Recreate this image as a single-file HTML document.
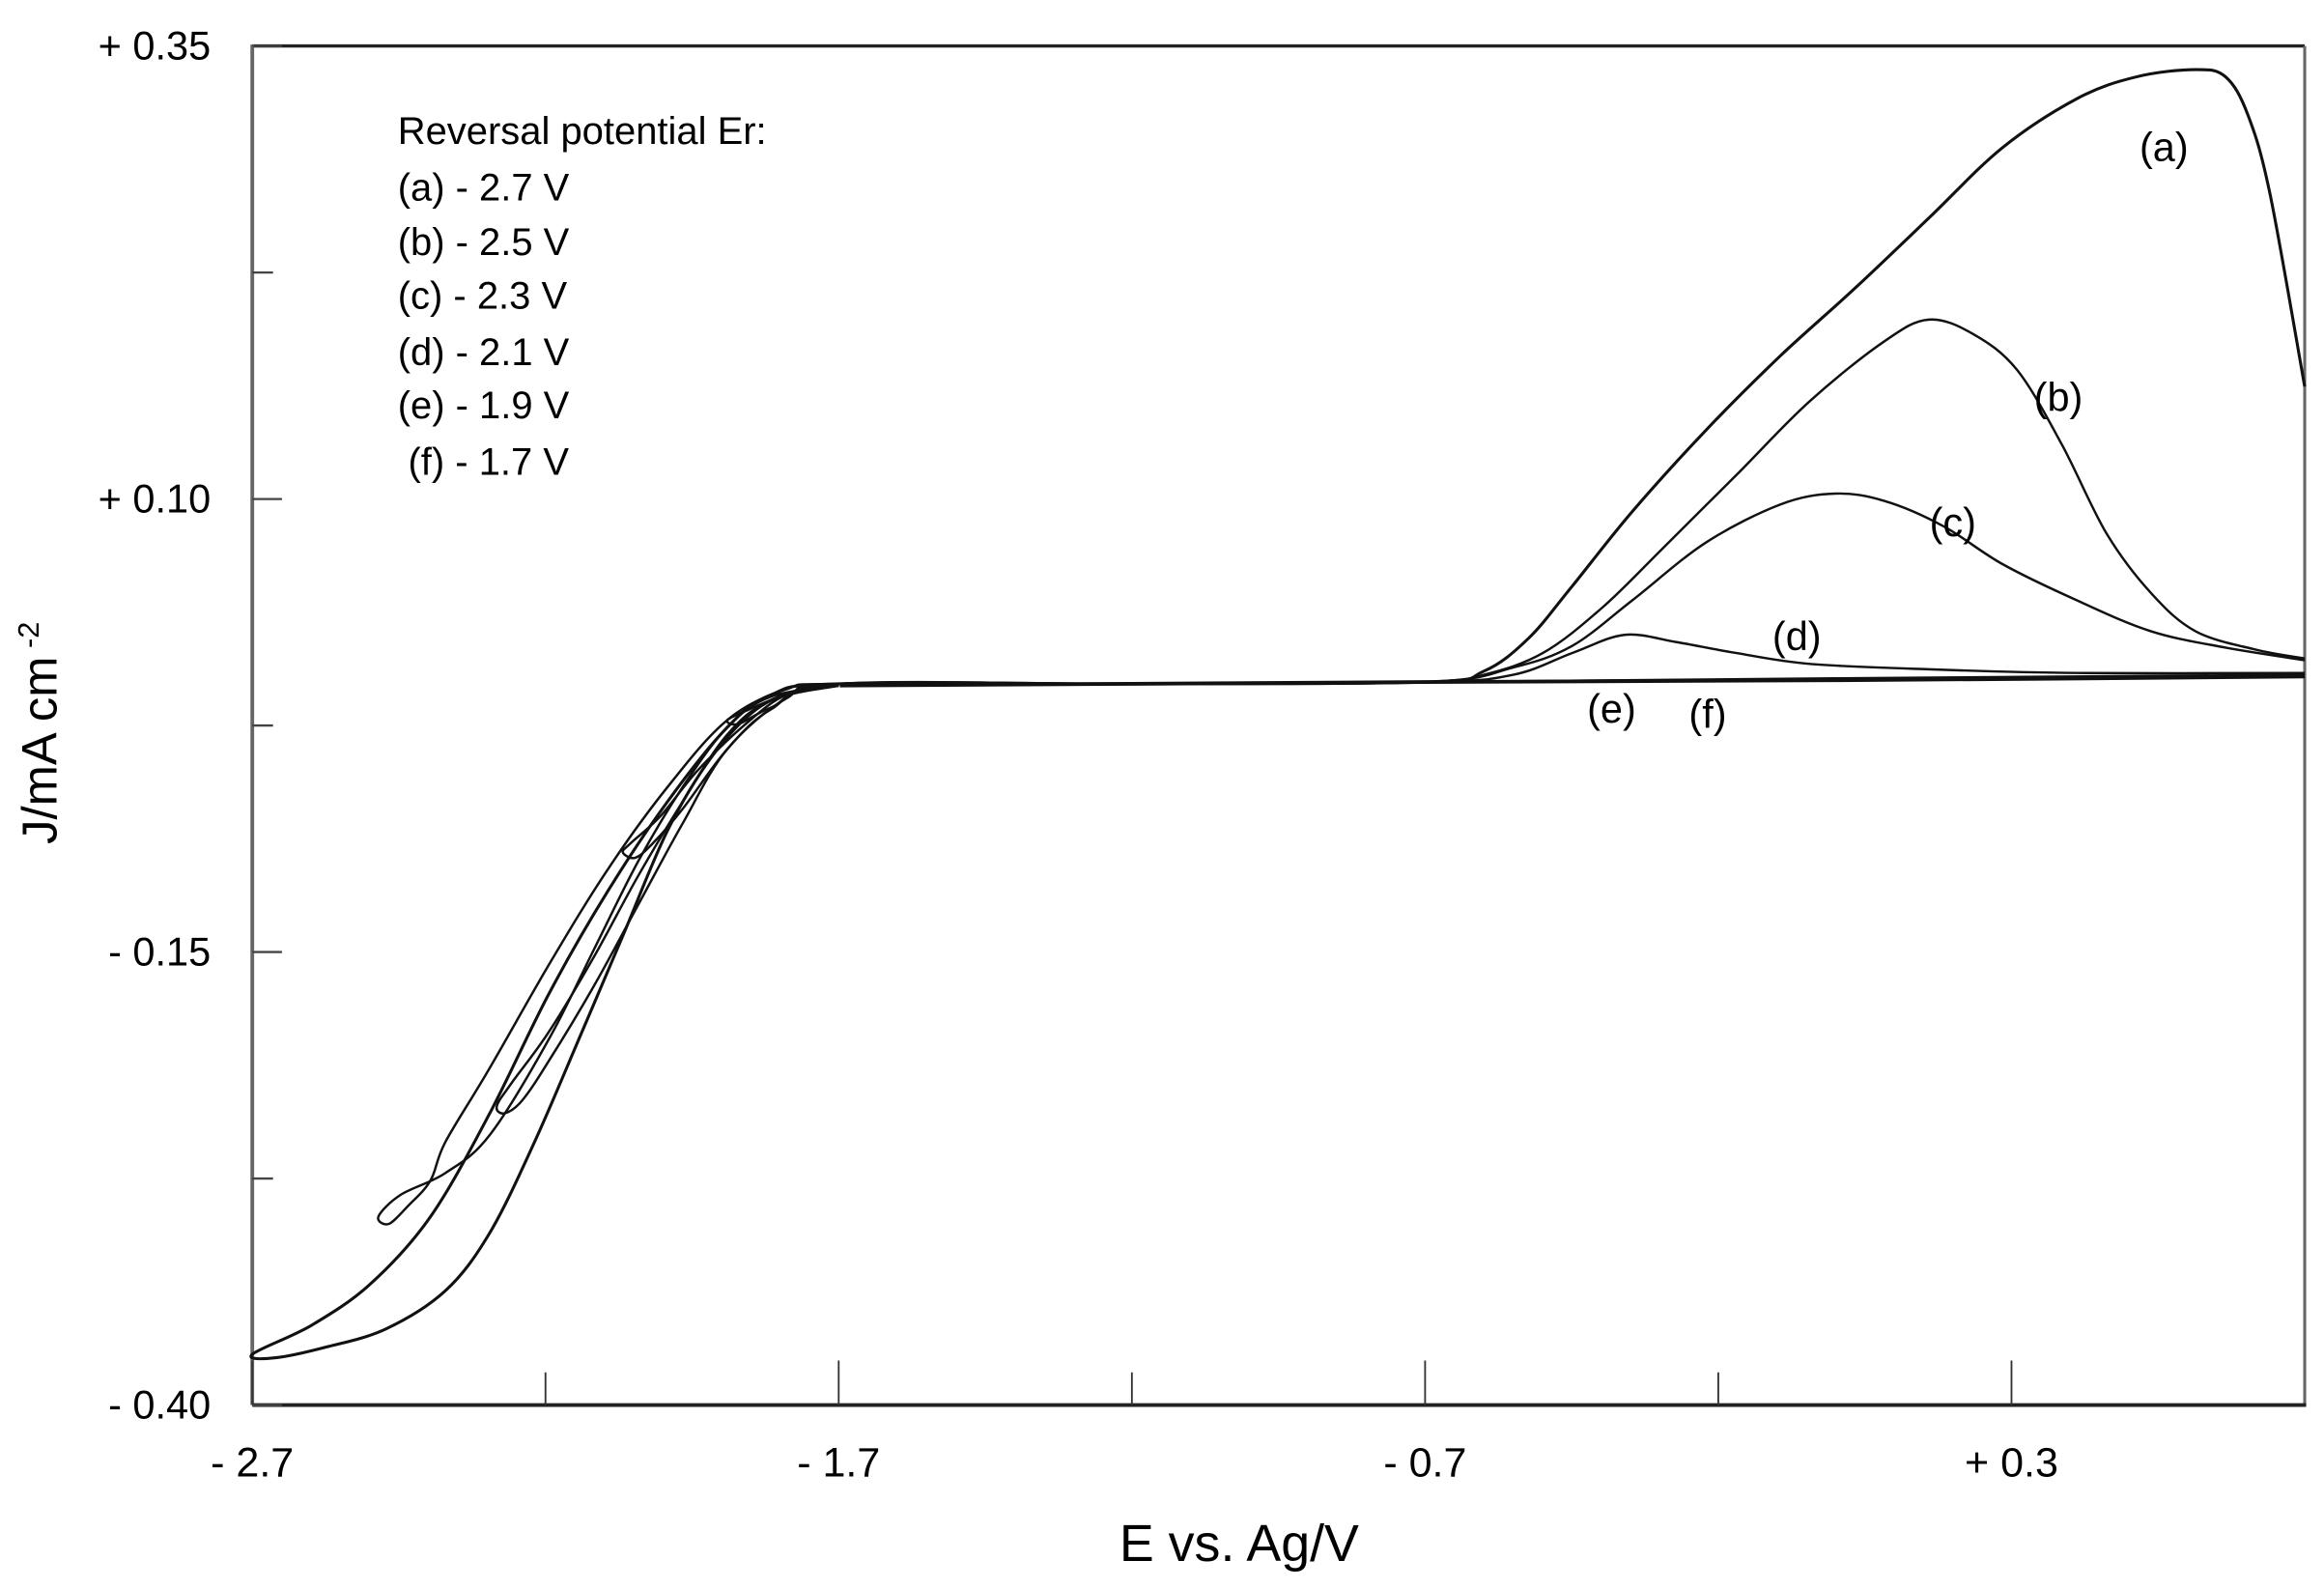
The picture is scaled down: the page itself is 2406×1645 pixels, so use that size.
<!DOCTYPE html>
<html><head><meta charset="utf-8"><style>
html,body{margin:0;padding:0;background:#fff;}
svg{display:block;font-family:"Liberation Sans",Arial,sans-serif;}
</style></head><body>
<svg id="chart" width="2406" height="1645" viewBox="0 0 1566 1071" preserveAspectRatio="none" xmlns="http://www.w3.org/2000/svg">
<g id="axes"></g>
<g id="series"></g>
<g id="legend">
<text x="268" y="97" font-size="26">Reversal potential Er:</text>
<text x="268" y="135" font-size="26">(a) - 2.7 V</text>
<text x="268" y="172" font-size="26">(b) - 2.5 V</text>
<text x="268" y="208" font-size="26">(c) - 2.3 V</text>
<text x="268" y="246" font-size="26">(d) - 2.1 V</text>
<text x="268" y="282" font-size="26">(e) - 1.9 V</text>
<text x="275" y="320" font-size="26">(f) - 1.7 V</text>
</g>
<text x="835" y="1052" font-size="35" text-anchor="middle">E vs. Ag/V</text>
<text transform="translate(38,494) rotate(-90)" font-size="33" text-anchor="middle">J/mA cm<tspan font-size="20" dy="-12"> -2</tspan></text>
</svg>
<script>
const xTickValues=[-2.7,-1.7,-0.7,0.3];
const xTickLabels=["- 2.7","- 1.7","- 0.7","+ 0.3"];
const xMinorValues=[-2.2,-1.2,-0.2];
const yTickValues=[0.35,0.10,-0.15,-0.40];
const yTickLabels=["+ 0.35","+ 0.10","- 0.15","- 0.40"];
const yMinorValues=[0.225,-0.025,-0.275];
// curve (a)
const aE=[-1.70,-1.764,-1.84,-1.916,-1.992,-2.068,-2.143,-2.219,-2.295,-2.371,-2.472,-2.574,-2.662,-2.70,-2.599,-2.498,-2.396,-2.295,-2.194,-2.093,-1.992,-1.89,-1.815,-1.70,-1.2,-0.699,-0.60,-0.524,-0.449,-0.347,-0.221,-0.094,0.032,0.159,0.285,0.412,0.513,0.614,0.665,0.703,0.741,0.80];
const aJ=[-0.003,-0.005,-0.016,-0.042,-0.083,-0.141,-0.198,-0.255,-0.305,-0.337,-0.358,-0.368,-0.374,-0.372,-0.356,-0.333,-0.296,-0.239,-0.173,-0.116,-0.067,-0.026,-0.008,-0.002,-0.002,-0.001,0.005,0.023,0.052,0.093,0.138,0.179,0.216,0.255,0.294,0.321,0.333,0.337,0.333,0.312,0.268,0.162];
// curve (b)
const bE=[-1.70,-1.815,-1.89,-1.966,-2.042,-2.118,-2.194,-2.295,-2.371,-2.447,-2.485,-2.467,-2.434,-2.396,-2.371,-2.295,-2.194,-2.093,-1.992,-1.89,-1.789,-1.698,-1.2,-0.699,-0.60,-0.499,-0.398,-0.297,-0.170,-0.044,0.083,0.159,0.235,0.310,0.386,0.462,0.538,0.614,0.715,0.80];
const bJ=[-0.003,-0.009,-0.026,-0.059,-0.100,-0.149,-0.198,-0.251,-0.272,-0.284,-0.296,-0.300,-0.290,-0.276,-0.255,-0.214,-0.157,-0.104,-0.059,-0.022,-0.005,-0.002,-0.002,-0.001,0.003,0.015,0.040,0.072,0.113,0.154,0.187,0.199,0.191,0.171,0.130,0.081,0.048,0.027,0.017,0.012];
// curve (c)
const cE=[-1.70,-1.815,-1.89,-1.966,-2.042,-2.118,-2.194,-2.257,-2.283,-2.270,-2.240,-2.194,-2.118,-2.042,-1.966,-1.89,-1.789,-1.698,-1.2,-0.699,-0.55,-0.449,-0.347,-0.221,-0.094,-0.001,0.083,0.184,0.285,0.412,0.538,0.665,0.80];
const cJ=[-0.003,-0.011,-0.030,-0.067,-0.108,-0.153,-0.194,-0.222,-0.235,-0.239,-0.232,-0.210,-0.169,-0.124,-0.079,-0.038,-0.010,-0.002,-0.002,-0.001,0.007,0.019,0.044,0.076,0.097,0.103,0.099,0.085,0.064,0.044,0.027,0.018,0.011];
// curve (d)
const dE=[-1.70,-1.789,-1.865,-1.941,-2.004,-2.055,-2.068,-2.047,-2.017,-1.966,-1.89,-1.815,-1.698,-1.2,-0.699,-0.55,-0.449,-0.36,-0.271,-0.170,-0.044,0.159,0.412,0.80];
const dJ=[-0.003,-0.008,-0.026,-0.050,-0.075,-0.090,-0.095,-0.098,-0.090,-0.071,-0.038,-0.016,-0.002,-0.002,-0.001,0.003,0.015,0.025,0.021,0.015,0.009,0.006,0.004,0.004];
// curve (e)
const eE=[-1.70,-1.789,-1.852,-1.89,-1.87,-1.815,-1.698,-1.2,-0.699,0.0,0.80];
const eJ=[-0.003,-0.008,-0.016,-0.022,-0.024,-0.015,-0.002,-0.002,-0.001,0.001,0.003];
// curve (f) / return baseline
const fE=[0.80,0.0,-0.699,-1.2,-1.698];
const fJ=[0.002,0.0,-0.001,-0.002,-0.003];
const curveLabels=["(a)","(b)","(c)","(d)","(e)","(f)"];
const labelE=[0.56,0.38,0.20,-0.066,-0.382,-0.218];
const labelJ=[0.294,0.156,0.087,0.024,-0.016,-0.019];

const L=170,R=1553,T=31,B=947;
const xs=v=>L+(v+2.7)/3.5*(R-L);
const ys=v=>T+(0.35-v)/0.75*(B-T);
const NS="http://www.w3.org/2000/svg";
function mk(tag,attrs,parent){const el=document.createElementNS(NS,tag);for(const k in attrs)el.setAttribute(k,attrs[k]);parent.appendChild(el);return el;}
const axes=document.getElementById('axes');
let el;
el=mk('line',{x1:L,y1:T,x2:R,y2:T,stroke:'#222','stroke-width':2.2},axes);


el=mk('line',{x1:R,y1:T,x2:R,y2:B,stroke:'#666','stroke-width':2},axes);


el=mk('line',{x1:L,y1:T-1,x2:L,y2:B,stroke:'#666','stroke-width':2.5},axes);


el=mk('line',{x1:L,y1:B,x2:R+1,y2:B,stroke:'#222','stroke-width':2.5},axes);


xTickValues.forEach((v,i)=>{
 const t=mk('line',{x1:xs(v),y1:B,x2:xs(v),y2:B-30,stroke:'#333','stroke-width':1.2},axes);
 
 
 const tx=mk('text',{x:xs(v),y:995,'font-size':28,'text-anchor':'middle'},axes);
 tx.textContent=xTickLabels[i];
 
 
});
xMinorValues.forEach(v=>{
 const t=mk('line',{x1:xs(v),y1:B,x2:xs(v),y2:B-22,stroke:'#333','stroke-width':1.2},axes);
 
 
});
yTickValues.forEach((v,i)=>{
 const t=mk('line',{x1:L,y1:ys(v),x2:L+20,y2:ys(v),stroke:'#444','stroke-width':1.5},axes);
 
 
 const tx=mk('text',{x:142,y:ys(v)+9,'font-size':27,'text-anchor':'end'},axes);
 tx.textContent=yTickLabels[i];
 
 
});
yMinorValues.forEach(v=>{
 const t=mk('line',{x1:L,y1:ys(v),x2:L+14,y2:ys(v),stroke:'#444','stroke-width':1.5},axes);
 
 
});
function pathD(E,J){
 const p=E.map((e,i)=>[xs(e),ys(J[i])]);
 let d='M'+p[0][0].toFixed(1)+','+p[0][1].toFixed(1);
 for(let i=0;i<p.length-1;i++){
  const p0=p[Math.max(0,i-1)],p1=p[i],p2=p[i+1],p3=p[Math.min(p.length-1,i+2)];
  const c1=[p1[0]+(p2[0]-p0[0])/6,p1[1]+(p2[1]-p0[1])/6];
  const c2=[p2[0]-(p3[0]-p1[0])/6,p2[1]-(p3[1]-p1[1])/6];
  d+='C'+c1[0].toFixed(1)+','+c1[1].toFixed(1)+' '+c2[0].toFixed(1)+','+c2[1].toFixed(1)+' '+p2[0].toFixed(1)+','+p2[1].toFixed(1);
 }
 return d;
}
const series=document.getElementById('series');
const sets=[[aE,aJ,2,'curve-a'],[bE,bJ,1.6,'curve-b'],[cE,cJ,1.6,'curve-c'],[dE,dJ,1.6,'curve-d'],[eE,eJ,1.6,'curve-e'],[fE,fJ,2.5,'curve-f']];
sets.forEach(s=>{
 const p=mk('path',{d:pathD(s[0],s[1]),fill:'none',stroke:'#111','stroke-width':s[2]},series);
 
 
});
curveLabels.forEach((lab,i)=>{
 const t=mk('text',{x:xs(labelE[i]),y:ys(labelJ[i])+9,'font-size':27,'text-anchor':'middle'},series);
 t.textContent=lab;
 
 
});
</script>
</body></html>
